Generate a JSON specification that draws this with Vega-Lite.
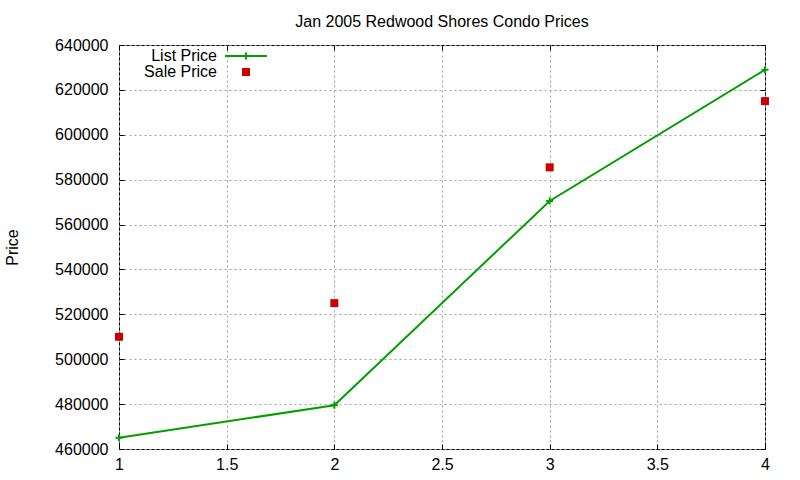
{
  "$schema": "https://vega.github.io/schema/vega-lite/v6.json",
  "width": 646,
  "height": 404,
  "autosize": {"type": "none"},
  "padding": {"left": 119, "top": 45, "right": 35, "bottom": 31},
  "title": {
    "text": "Jan 2005 Redwood Shores Condo Prices",
    "anchor": "middle",
    "fontSize": 16,
    "fontWeight": "normal",
    "font": "Liberation Sans",
    "color": "#000",
    "baseline": "alphabetic",
    "offset": 18,
    "dy": 24
  },
  "config": {
    "view": {"stroke": "#000", "strokeWidth": 1},
    "font": "Liberation Sans",
    "axis": {
      "labelFont": "Liberation Sans",
      "labelFontSize": 16,
      "labelColor": "#000",
      "titleFont": "Liberation Sans",
      "titleFontSize": 16,
      "titleFontWeight": "normal",
      "titleColor": "#000",
      "domain": false,
      "grid": true,
      "gridColor": "#a0a0a0",
      "gridDash": [2, 3],
      "gridWidth": 1,
      "tickColor": "#000",
      "tickSize": -5,
      "tickWidth": 1
    }
  },
  "data": {
    "values": [
      {"x": 1, "price": 465000, "series": "List Price"},
      {"x": 2, "price": 479500, "series": "List Price"},
      {"x": 3, "price": 570500, "series": "List Price"},
      {"x": 4, "price": 629000, "series": "List Price"},
      {"x": 1, "price": 510000, "series": "Sale Price"},
      {"x": 2, "price": 525000, "series": "Sale Price"},
      {"x": 3, "price": 585500, "series": "Sale Price"},
      {"x": 4, "price": 615000, "series": "Sale Price"}
    ]
  },
  "layer": [
    {
      "transform": [{"filter": "datum.series == 'List Price'"}],
      "mark": {"type": "line", "strokeWidth": 2},
      "encoding": {
        "x": {
          "field": "x", "type": "quantitative",
          "scale": {"domain": [1, 4], "nice": false, "zero": false},
          "axis": {"values": [1, 1.5, 2, 2.5, 3, 3.5, 4], "format": "~g", "title": null, "labelPadding": 12, "labelFlush": false}
        },
        "y": {
          "field": "price", "type": "quantitative",
          "scale": {"domain": [460000, 640000], "nice": false, "zero": false},
          "axis": {
            "values": [460000, 480000, 500000, 520000, 540000, 560000, 580000, 600000, 620000, 640000],
            "format": "d",
            "labelPadding": 16,
            "title": "Price",
            "titleAngle": -90,
            "titleX": -107,
            "titleY": 202,
            "titleAlign": "center",
            "titleBaseline": "middle"
          }
        },
        "color": {
          "field": "series", "type": "nominal",
          "scale": {"domain": ["List Price", "Sale Price"], "range": ["#00a000", "#cc0000"]},
          "legend": {
            "orient": "none",
            "legendX": 119,
            "legendY": 3,
            "title": null,
            "padding": 0,
            "rowPadding": 0,
            "symbolSize": 100,
            "symbolStrokeWidth": 2,
            "labelFont": "Liberation Sans",
            "labelFontSize": 16,
            "labelColor": "#000",
            "labelAlign": "right",
            "labelBaseline": "middle",
            "encode": {
              "symbols": {
                "update": {
                  "shape": {"signal": "datum.value === 'List Price' ? 'M-1,0H1M0,-0.17V0.17' : 'square'"},
                  "size": {"signal": "datum.value === 'List Price' ? 1764 : 64"},
                  "fill": {"signal": "datum.value === 'List Price' ? 'transparent' : '#cc0000'"},
                  "stroke": {"signal": "datum.value === 'List Price' ? '#00a000' : 'transparent'"},
                  "strokeWidth": {"signal": "datum.value === 'List Price' ? 2 : 0"},
                  "opacity": {"value": 1}
                }
              },
              "labels": {"update": {"x": {"value": -21}}}
            }
          }
        }
      }
    },
    {
      "transform": [{"filter": "datum.series == 'List Price'"}],
      "mark": {"type": "point", "shape": "M-1,0H1M0,-1V1", "size": 49, "filled": false, "strokeWidth": 2, "opacity": 1},
      "encoding": {
        "x": {"field": "x", "type": "quantitative", "axis": null},
        "y": {"field": "price", "type": "quantitative", "axis": null},
        "color": {"field": "series", "type": "nominal"}
      }
    },
    {
      "transform": [{"filter": "datum.series == 'Sale Price'"}],
      "mark": {"type": "point", "shape": "square", "size": 64, "filled": true, "strokeWidth": 0, "opacity": 1},
      "encoding": {
        "x": {
          "field": "x", "type": "quantitative",
          "axis": {"orient": "top", "values": [1, 1.5, 2, 2.5, 3, 3.5, 4], "labels": false, "grid": false, "title": null}
        },
        "y": {
          "field": "price", "type": "quantitative",
          "axis": {"orient": "right", "values": [460000, 480000, 500000, 520000, 540000, 560000, 580000, 600000, 620000, 640000], "labels": false, "grid": false, "title": null}
        },
        "color": {"field": "series", "type": "nominal"}
      }
    }
  ],
  "resolve": {"axis": {"x": "independent", "y": "independent"}}
}
